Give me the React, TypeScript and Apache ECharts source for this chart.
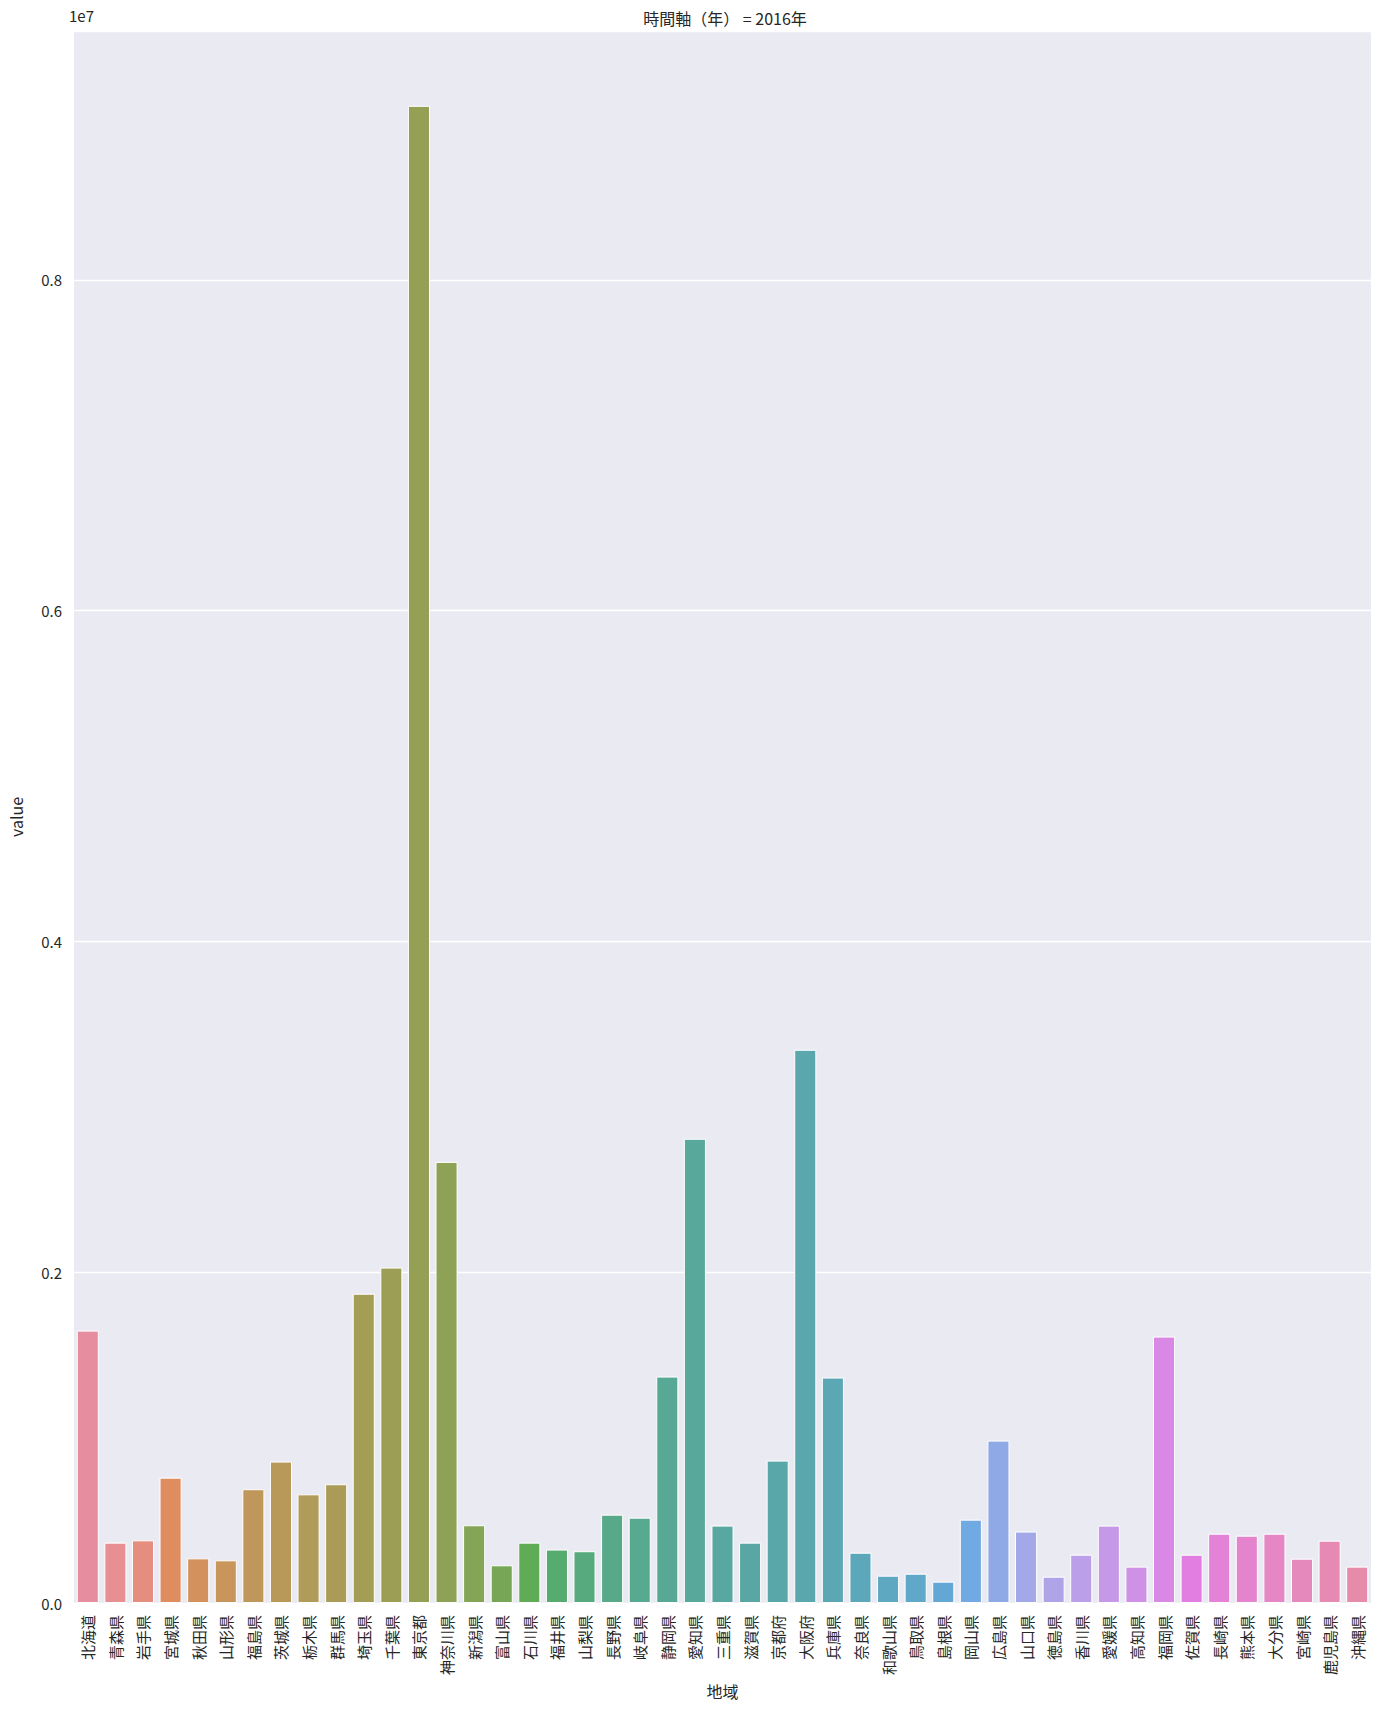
import React, { useEffect, useRef } from "react";
import * as echarts from "echarts";

const prefectures = [
  "北海道", "青森県", "岩手県", "宮城県", "秋田県", "山形県", "福島県", "茨城県", "栃木県", "群馬県",
  "埼玉県", "千葉県", "東京都", "神奈川県", "新潟県", "富山県", "石川県", "福井県", "山梨県", "長野県",
  "岐阜県", "静岡県", "愛知県", "三重県", "滋賀県", "京都府", "大阪府", "兵庫県", "奈良県", "和歌山県",
  "鳥取県", "島根県", "岡山県", "広島県", "山口県", "徳島県", "香川県", "愛媛県", "高知県", "福岡県",
  "佐賀県", "長崎県", "熊本県", "大分県", "宮崎県", "鹿児島県", "沖縄県",
];

const values = [
  1647000, 365000, 379000, 758000, 270000, 258000, 688000, 855000, 657000, 718000,
  1870000, 2028000, 9052000, 2667000, 470000, 228000, 365000, 323000, 313000, 534000,
  516000, 1369000, 2807000, 468000, 365000, 861000, 3345000, 1363000, 304000, 165000,
  177000, 129000, 504000, 982000, 432000, 159000, 292000, 468000, 220000, 1611000,
  292000, 419000, 407000, 419000, 268000, 377000, 220000,
];

const yTicks = [0, 2000000, 4000000, 6000000, 8000000];

// ---- seaborn husl palette + desaturation ----
const M = [
  [3.2406, -1.5372, -0.4986],
  [-0.9689, 1.8758, 0.0415],
  [0.0557, -0.204, 1.057],
];
const refU = 0.19784;
const refV = 0.46834;
const labE = 0.008856;
const labK = 903.3;

function maxChroma(L: number, H: number) {
  const hrad = (H / 360) * 2 * Math.PI;
  const sinH = Math.sin(hrad);
  const cosH = Math.cos(hrad);
  const sub1 = Math.pow(L + 16, 3) / 1560896;
  const sub2 = sub1 > labE ? sub1 : L / labK;
  let result = Infinity;
  for (const row of M) {
    const [m1, m2, m3] = row;
    const top = (0.99915 * m1 + 1.05122 * m2 + 1.1446 * m3) * sub2;
    const rbottom = 0.8633 * m3 - 0.17266 * m2;
    const lbottom = 0.12949 * m3 - 0.38848 * m1;
    const bottom = (rbottom * sinH + lbottom * cosH) * sub2;
    for (const t of [0, 1]) {
      const C = (L * (top - 1.05122 * t)) / (bottom + 0.17266 * sinH * t);
      if (C > 0 && C < result) result = C;
    }
  }
  return result;
}

function fInv(t: number) {
  return Math.pow(t, 3) > labE ? Math.pow(t, 3) : (116 * t - 16) / labK;
}

function fromLinear(c: number) {
  return c <= 0.0031308 ? 12.92 * c : 1.055 * Math.pow(c, 1 / 2.4) - 0.055;
}

function huslToRgb(h: number, s: number, l: number): number[] {
  const C = (maxChroma(l, h) / 100) * s;
  const hrad = (h / 360) * 2 * Math.PI;
  const U = Math.cos(hrad) * C;
  const V = Math.sin(hrad) * C;
  const L = l;
  const varY = fInv((L + 16) / 116);
  const varU = U / (13 * L) + refU;
  const varV = V / (13 * L) + refV;
  const Y = varY;
  const X = 0 - (9 * Y * varU) / ((varU - 4) * varV - varU * varV);
  const Z = (9 * Y - 15 * varV * Y - varV * X) / (3 * varV);
  return M.map((r) => {
    const v = fromLinear(r[0] * X + r[1] * Y + r[2] * Z);
    return Math.min(1, Math.max(0, v));
  });
}

function rgbToHls(r: number, g: number, b: number) {
  const maxc = Math.max(r, g, b);
  const minc = Math.min(r, g, b);
  const sumc = maxc + minc;
  const rangec = maxc - minc;
  const l = sumc / 2;
  if (minc === maxc) return [0, l, 0];
  const s = l <= 0.5 ? rangec / sumc : rangec / (2 - maxc - minc);
  const rc = (maxc - r) / rangec;
  const gc = (maxc - g) / rangec;
  const bc = (maxc - b) / rangec;
  let h;
  if (r === maxc) h = bc - gc;
  else if (g === maxc) h = 2 + rc - bc;
  else h = 4 + gc - rc;
  h = ((h / 6) % 1 + 1) % 1;
  return [h, l, s];
}

function vv(m1: number, m2: number, hue: number) {
  hue = ((hue % 1) + 1) % 1;
  if (hue < 1 / 6) return m1 + (m2 - m1) * hue * 6;
  if (hue < 0.5) return m2;
  if (hue < 2 / 3) return m1 + (m2 - m1) * (2 / 3 - hue) * 6;
  return m1;
}

function hlsToRgb(h: number, l: number, s: number) {
  if (s === 0) return [l, l, l];
  const m2 = l <= 0.5 ? l * (1 + s) : l + s - l * s;
  const m1 = 2 * l - m2;
  return [vv(m1, m2, h + 1 / 3), vv(m1, m2, h), vv(m1, m2, h - 1 / 3)];
}

function toHex(rgb: number[]) {
  return (
    "#" +
    rgb
      .map((c) => {
        const v = Math.round(Math.min(1, Math.max(0, c)) * 255);
        return v.toString(16).padStart(2, "0");
      })
      .join("")
  );
}

const BG = [234 / 255, 234 / 255, 242 / 255];

function seabornPalette(n: number) {
  const out: string[] = [];
  for (let i = 0; i < n; i++) {
    let h = i / n + 0.01;
    h = h % 1;
    h *= 359;
    const rgb = huslToRgb(h, 0.9 * 99, 0.65 * 99);
    const [hh, ll, ss] = rgbToHls(rgb[0], rgb[1], rgb[2]);
    const d = hlsToRgb(hh, ll, ss * 0.75);
    const a = 0.88;
    out.push(toHex(d.map((c, k) => c * a + BG[k] * (1 - a))));
  }
  return out;
}

const FONT = "'Noto Sans CJK JP', 'Noto Sans', sans-serif";
const TEXT = "#262626";

export default function App() {
  const ref = useRef<HTMLDivElement>(null);

  useEffect(() => {
    document.body.style.margin = "0";
    if (!ref.current) return;
    const chart = echarts.init(ref.current, null, { renderer: "svg" });
    const colors = seabornPalette(prefectures.length);
    const yMax = Math.max(...values) * 1.05;

    chart.setOption({
      animation: false,
      backgroundColor: "#ffffff",
      textStyle: { fontFamily: FONT },
      title: {
        text: "時間軸（年） = 2016年",
        left: 720,
        textAlign: "center",
        top: 5,
        textStyle: { fontFamily: FONT, fontSize: 16, fontWeight: "normal", color: TEXT },
      },
      grid: {
        left: 68,
        right: 17,
        top: 31,
        bottom: 107,
        show: true,
        backgroundColor: "#EAEAF2",
        borderWidth: 0,
      },
      graphic: [
        {
          type: "text",
          left: 69,
          top: 8,
          style: { text: "1e7", fontFamily: FONT, fontSize: 15, fill: TEXT },
        },
      ],
      xAxis: {
        type: "category",
        data: prefectures,
        name: "地域",
        nameLocation: "middle",
        nameGap: 80,
        nameTextStyle: { fontFamily: FONT, fontSize: 16, color: TEXT },
        axisLine: { show: false },
        axisTick: { show: false },
        splitLine: { show: false },
        axisLabel: {
          rotate: 90,
          interval: 0,
          margin: 12,
          fontFamily: FONT,
          fontSize: 15,
          color: TEXT,
        },
      },
      yAxis: {
        type: "value",
        min: 0,
        max: yMax,
        interval: 2000000,
        name: "value",
        nameLocation: "middle",
        nameGap: 50,
        nameRotate: 90,
        nameTextStyle: { fontFamily: FONT, fontSize: 16, color: TEXT },
        axisLine: { show: false },
        axisTick: { show: false },
        splitLine: { lineStyle: { color: "#ffffff", width: 1.3 } },
        axisLabel: {
          showMaxLabel: false,
          margin: 12,
          fontFamily: FONT,
          fontSize: 15,
          color: TEXT,
          formatter: (v: number) => (yTicks.includes(v) ? (v / 1e7).toFixed(1) : ""),
        },
      },
      series: [
        {
          type: "bar",
          barCategoryGap: "20%",
          data: values.map((v, i) => ({
            value: v,
            itemStyle: { color: colors[i], borderColor: "#ffffff", borderWidth: 1 },
          })),
        },
      ],
    });

    return () => chart.dispose();
  }, []);

  return (
    <div
      ref={ref}
      style={{ position: "absolute", left: 0, top: 0, width: 1388, height: 1710 }}
    />
  );
}
